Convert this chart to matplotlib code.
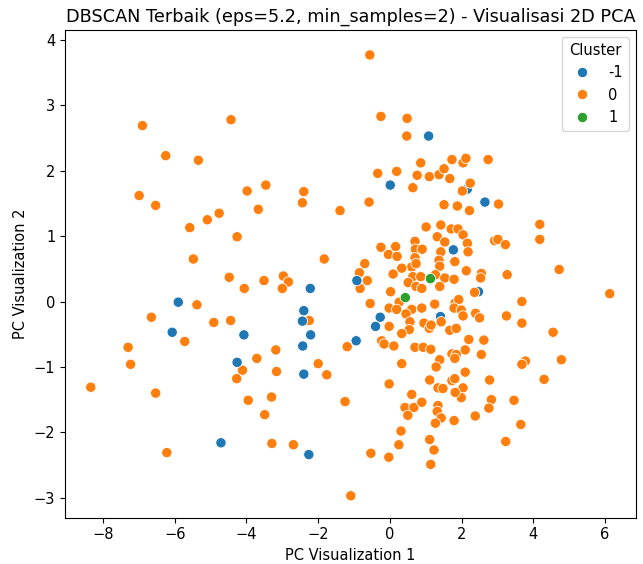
import matplotlib
matplotlib.use("Agg")
import matplotlib.pyplot as plt
import seaborn as sns
import pandas as pd

# noise points (cluster -1) - first three are drawn under the orange ones
noise_x = [2.16, 1.41, 2.47,
           1.08, 0.01, 2.65, 1.77, -0.92, -2.22, -5.90, -2.40, -2.44, -2.21,
           -2.43, -2.40, -4.07, -6.07, -4.26, -4.71, -2.26, -0.94, -0.27, -0.40]
noise_y = [1.72, -0.23, 0.15,
           2.53, 1.78, 1.52, 0.79, 0.32, 0.20, -0.01, -0.14, -0.30, -0.51,
           -0.68, -1.11, -0.51, -0.47, -0.93, -2.16, -2.34, -0.60, -0.24, -0.38]

# cluster 0
c0_x = [-0.56, -0.25, 0.48, 0.47, -6.90, -4.43, -6.25, -5.34, -6.99, -6.53,
        -3.98, -3.46, -2.40, -2.44, -3.67, -4.76, -5.09, -5.58, -4.26, -5.48,
        -1.83, -1.39, -0.58, -0.34, 0.19, 0.64, 0.76, 0.86, 1.10, 1.37,
        1.51, 1.67, 1.73, 2.04, 2.12, 2.74, 2.24, 2.02, 1.51, 1.88,
        2.22, 3.03, 4.18, 4.18, 4.72, 6.13, 2.92, 3.01, 3.22,
        1.01, 1.42, 1.71, 1.90, 2.04, 1.32, 1.53, 2.16, 2.18,
        0.70, 0.71, 0.90, 0.70, -0.25, 0.16, -0.04, 0.20, 1.42, 1.37, 1.81,
        -0.70, 0.61, 0.73, 0.33, 1.39, 2.13, 2.55, 2.53, 3.27,
        -0.85, 0.09, 0.64, 0.86, 1.27, 1.53, 1.79,
        -0.63, 0.51, 0.73, 0.89, 1.39, -0.83, 0.02, 2.36, 0.26, 3.68,
        -0.55, 1.25, 1.82, 1.92, 1.79, 1.99,
        -0.02, 0.19, 0.61, 0.89, 0.45, 2.04, 2.39, 2.50, 3.25,
        0.56, 1.43, 0.95, 3.68, -0.02, 0.54, 1.10, 1.15, 1.67, 1.85,
        0.33, -0.23, -0.16, 0.11, 0.70, 0.93, 1.14, -1.19,
        2.20, 2.62, 2.10, 2.55, 4.55,
        1.73, 1.85, 1.81, 1.39, 1.29, 0.33, 3.78, 3.68, 4.78, 2.10, 4.30,
        1.11, 1.34, 1.48, 1.73, 1.81, 2.04, 1.99, 1.82, 2.78, -0.02,
        2.83, 2.76, 3.46, 3.65, 3.23,
        1.34, 1.32, 1.43, 1.27, 1.79, 2.38,
        0.61, 0.42, 0.67, 0.89, 0.50, 0.31, 0.25, -0.53, -0.03, -1.09, -1.25,
        1.11, 1.23, 1.14,
        -4.48, -3.51, -2.97, -2.83, -4.06, -3.00, -5.38, -6.65, -4.91, -4.44,
        -5.72, -2.25, -7.30, -7.23, -3.71, -3.18, -4.11, -4.27, -3.16, -2.00,
        -1.76, -8.34, -6.53, -3.95, -3.30, -3.49, -3.29, -2.69, -6.22]
c0_y = [3.77, 2.83, 2.80, 2.53, 2.69, 2.78, 2.23, 2.16, 1.62, 1.47,
        1.69, 1.78, 1.68, 1.51, 1.41, 1.35, 1.25, 1.13, 0.99, 0.65,
        0.65, 1.39, 1.52, 1.96, 1.99, 1.74, 1.93, 2.12, 1.91, 1.94,
        2.03, 1.88, 2.17, 2.12, 2.19, 2.17, 1.81, 1.69, 1.48, 1.46,
        1.39, 1.49, 1.18, 0.95, 0.49, 0.12, 0.93, 0.95, 0.87,
        1.14, 1.17, 1.11, 1.11, 1.02, 0.99, 0.91, 0.89, 0.76,
        0.92, 0.80, 0.80, 0.67, 0.83, 0.84, 0.72, 0.69, 0.76, 0.63, 0.61,
        0.58, 0.53, 0.58, 0.51, 0.54, 0.47, 0.43, 0.36, 0.41,
        0.44, 0.42, 0.38, 0.38, 0.41, 0.36, 0.34,
        0.32, 0.29, 0.23, 0.20, 0.23, 0.20, 0.15, 0.14, -0.01, 0.00,
        -0.03, -0.04, -0.02, 0.03, -0.10, -0.13,
        -0.10, -0.12, -0.12, -0.10, -0.19, -0.22, -0.18, -0.25, -0.22,
        -0.31, -0.31, -0.33, -0.33, -0.38, -0.43, -0.41, -0.36, -0.44, -0.41,
        -0.49, -0.60, -0.65, -0.68, -0.70, -0.70, -0.73, -0.69,
        -0.58, -0.59, -0.74, -0.81, -0.47,
        -0.80, -0.81, -0.87, -0.89, -1.00, -0.95, -0.91, -0.96, -0.89, -1.08, -1.19,
        -1.20, -1.32, -1.33, -1.21, -1.18, -1.32, -1.47, -1.39, -1.20, -1.26,
        -1.50, -1.63, -1.51, -1.88, -2.14,
        -1.59, -1.68, -1.78, -1.86, -1.82, -1.75,
        -1.42, -1.62, -1.62, -1.54, -1.74, -1.98, -2.19, -2.32, -2.38, -2.97, -1.53,
        -2.11, -2.27, -2.49,
        0.37, 0.32, 0.39, 0.30, 0.20, 0.20, -0.05, -0.24, -0.32, -0.29,
        -0.61, -0.29, -0.70, -0.96, -0.87, -0.74, -1.05, -1.18, -1.07, -0.95,
        -1.12, -1.31, -1.40, -1.51, -1.46, -1.73, -2.17, -2.19, -2.31]

# cluster 1
c1_x = [0.43, 1.13]
c1_y = [0.06, 0.35]

n_under = 3
df = pd.concat([
    pd.DataFrame({"x": noise_x[:n_under], "y": noise_y[:n_under], "Cluster": -1}),
    pd.DataFrame({"x": c0_x, "y": c0_y, "Cluster": 0}),
    pd.DataFrame({"x": noise_x[n_under:], "y": noise_y[n_under:], "Cluster": -1}),
    pd.DataFrame({"x": c1_x, "y": c1_y, "Cluster": 1}),
], ignore_index=True)

palette = {-1: "#1f77b4", 0: "#ff7f0e", 1: "#2ca02c"}

plt.rcParams["font.size"] = 10.5

fig, ax = plt.subplots(figsize=(6.43, 5.64), dpi=100)
fig.subplots_adjust(left=0.101, right=0.989, top=0.947, bottom=0.082)

sns.scatterplot(data=df, x="x", y="y", hue="Cluster", palette=palette,
                s=55, ax=ax)
sns.move_legend(ax, "upper right", title="Cluster")

ax.set_xlim(-9.06, 6.86)
ax.set_ylim(-3.306, 4.153)
ax.set_title("DBSCAN Terbaik (eps=5.2, min_samples=2) - Visualisasi 2D PCA",
             fontsize=12.7)
ax.set_xlabel("PC Visualization 1")
ax.set_ylabel("PC Visualization 2")

fig.savefig("out.png")
